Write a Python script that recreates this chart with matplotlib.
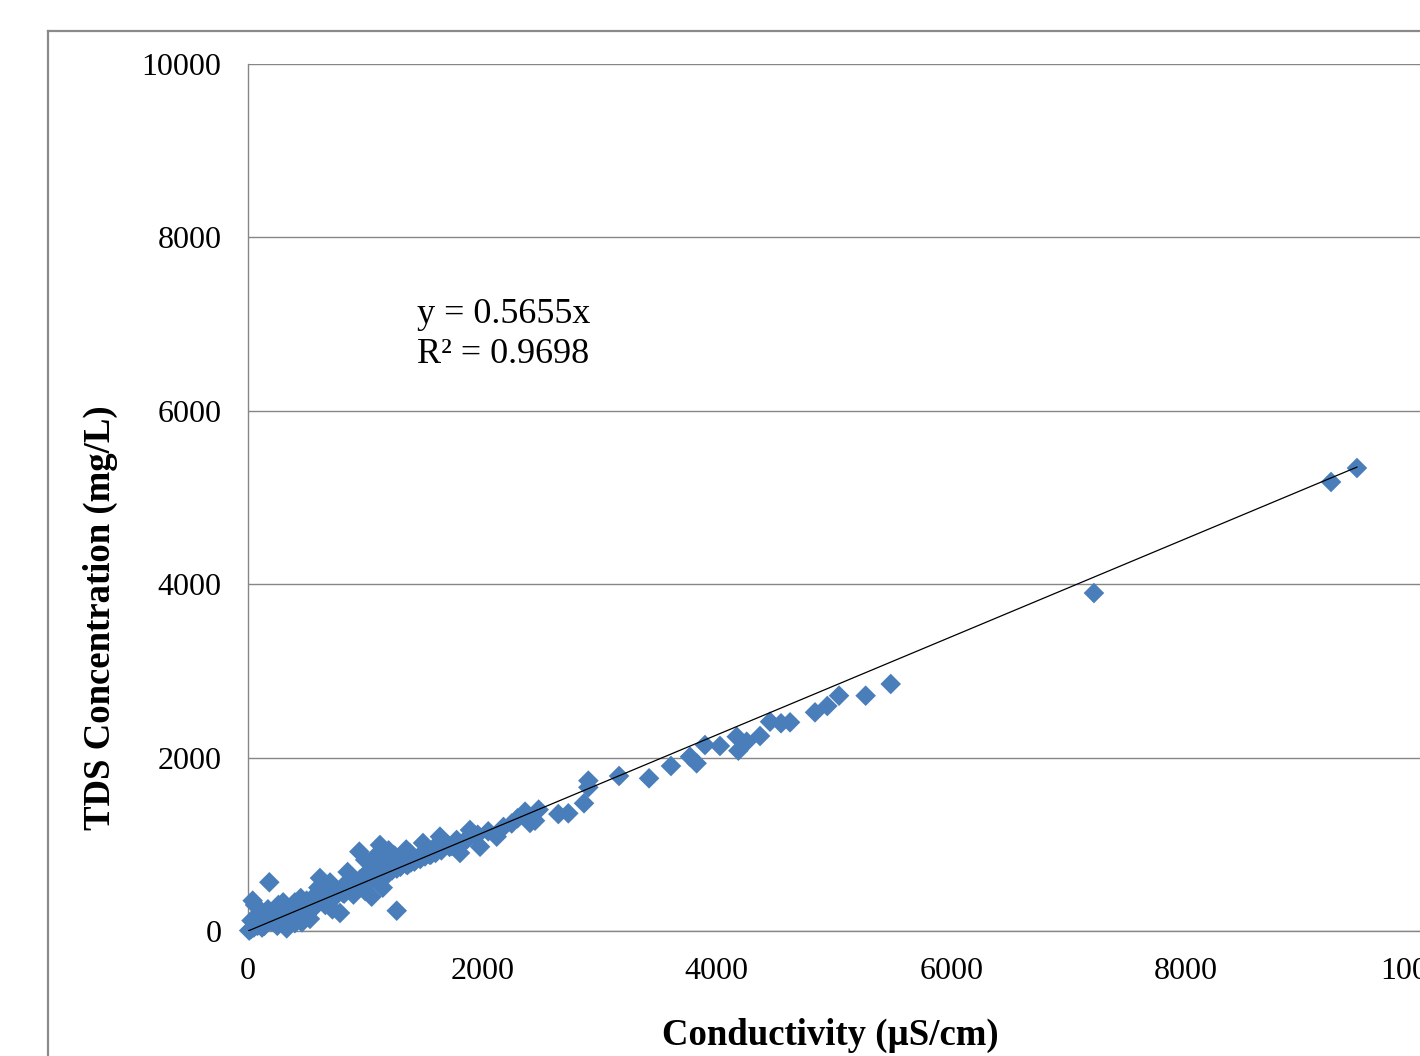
import numpy as np
import matplotlib.pyplot as plt
from matplotlib.lines import Line2D

# conductivity (uS/cm) and TDS (mg/L)
cond = [10, 25, 40, 60, 30, 80, 100, 120, 150, 170, 182, 200, 210, 230, 250, 260, 280, 300, 310, 330,
	350, 370, 390, 400, 420, 440, 460, 480, 500, 520, 529, 550, 570, 590, 614, 620, 640, 660, 680, 700,
	720, 740, 760, 785, 800, 820, 840, 860, 880, 900, 920, 950, 960, 980, 1000, 1020, 1040, 1055, 1070, 1090,
	1110, 1126, 1140, 1160, 1180, 1200, 1220, 1240, 1269, 1280, 1300, 1320, 1340, 1360, 1380, 1400, 1430, 1460, 1493, 1520,
	1550, 1580, 1610, 1638, 1660, 1700, 1740, 1780, 1809, 1850, 1894, 1940, 1980, 2050, 2122, 2180, 2250, 2300, 2364, 2406,
	2449, 2480,
	50, 90, 140, 190, 240, 290, 340, 380, 430, 470, 510, 560, 600, 650, 690, 730, 770, 810, 850, 890,
	930, 970, 1010, 1050, 1100, 1150, 1190, 1230, 1270, 1310, 1350, 1390, 1420, 1470, 1510, 1560, 1600, 1650, 1720, 1800,
	1870, 1960,
	700, 850, 1000, 1100, 1200, 1250, 1350, 1150, 900, 1000, 500, 400, 300, 450, 600,
	2648, 2733, 2867, 2904, 2904, 3166, 3422, 3609, 3771, 3828, 3899, 4027, 4170, 4184, 4255, 4369, 4454, 4548, 4625, 4838,
	4943, 5043, 5270, 5484, 7218, 9241, 9462]
tds = [5, 20, 350, 300, 120, 60, 150, 40, 90, 250, 562, 110, 200, 160, 60, 300, 180, 120, 250, 30,
	200, 280, 150, 330, 220, 260, 100, 300, 350, 250, 140, 380, 280, 320, 611, 420, 350, 300, 450, 400,
	250, 480, 420, 208, 500, 430, 550, 480, 600, 520, 560, 915, 600, 520, 650, 580, 700, 396, 620, 720,
	650, 992, 700, 780, 640, 850, 720, 760, 234, 800, 740, 880, 790, 760, 900, 830, 820, 860, 1015, 900,
	880, 950, 920, 1088, 960, 1000, 980, 1050, 900, 1040, 1165, 1100, 972, 1150, 1088, 1200, 1240, 1300, 1376, 1246,
	1272, 1400,
	40, 70, 60, 130, 120, 170, 210, 190, 260, 240, 300, 330, 330, 380, 370, 420, 450, 440, 490, 500,
	530, 560, 560, 600, 630, 660, 680, 700, 720, 760, 770, 790, 800, 830, 860, 880, 900, 930, 970, 1010,
	1060, 1110,
	560, 680, 820, 880, 930, 870, 940, 500, 420, 460, 160, 90, 330, 380, 500,
	1349, 1357, 1473, 1657, 1734, 1788, 1761, 1903, 2010, 1934, 2145, 2134, 2241, 2080, 2183, 2249, 2414, 2396, 2407, 2522,
	2595, 2714, 2714, 2849, 3898, 5179, 5340]

slope = 0.5655
r2 = 0.9698
xticks = [0, 2000, 4000, 6000, 8000, 10000]
yticks = [0, 2000, 4000, 6000, 8000, 10000]

plt.rcParams['font.family'] = ['Liberation Serif', 'DejaVu Serif']

fig = plt.figure(figsize=(14.2, 10.56), dpi=100)
ax = fig.add_axes([248 / 1420, 1 - 931 / 1056, 1 - 248 / 1420, (931 - 64) / 1056])

grey = '#868686'
ax.set_xlim(0, 10000)
ax.set_ylim(0, 10000)
ax.set_xticks(xticks)
ax.set_yticks(yticks)
ax.yaxis.grid(True, color=grey, lw=1.0)
ax.set_axisbelow(True)
ax.tick_params(length=0, labelsize=23)
ax.tick_params(axis='y', pad=19)
ax.tick_params(axis='x', pad=19)
for s in ['top', 'right']:
	ax.spines[s].set_visible(False)
for s in ['left', 'bottom']:
	ax.spines[s].set_color(grey)
	ax.spines[s].set_linewidth(1.0)

ax.scatter(cond, tds, marker='D', s=110, c='#4a7ebb', edgecolors='none', zorder=3, clip_on=False)
xl = np.array([0, max(cond)])
ax.plot(xl, slope * xl, c='k', lw=0.9, zorder=4)

ax.text(0.144, 0.688, 'y = %.4fx\nR² = %.4f' % (slope, r2), transform=ax.transAxes,
	fontsize=26, va='center', ha='left', linespacing=1.3)

ax.set_xlabel('Conductivity (µS/cm)', fontsize=26.5, fontweight='bold', va='center')
ax.xaxis.set_label_coords(0.4966, -0.12)
ax.set_ylabel('TDS Concentration (mg/L)', fontsize=26.5, fontweight='bold', va='center')
ax.yaxis.set_label_coords(-0.1263, 0.361)

# outer chart border, cut off by the image edge
x0 = 48 / 1420
y0 = 1 - 31 / 1056
fig.add_artist(Line2D([x0, x0], [-0.1, y0], color='#8a8a8a', lw=1.6, transform=fig.transFigure))
fig.add_artist(Line2D([x0, 1.1], [y0, y0], color='#8a8a8a', lw=1.6, transform=fig.transFigure))

fig.savefig('out.png', dpi=100)
